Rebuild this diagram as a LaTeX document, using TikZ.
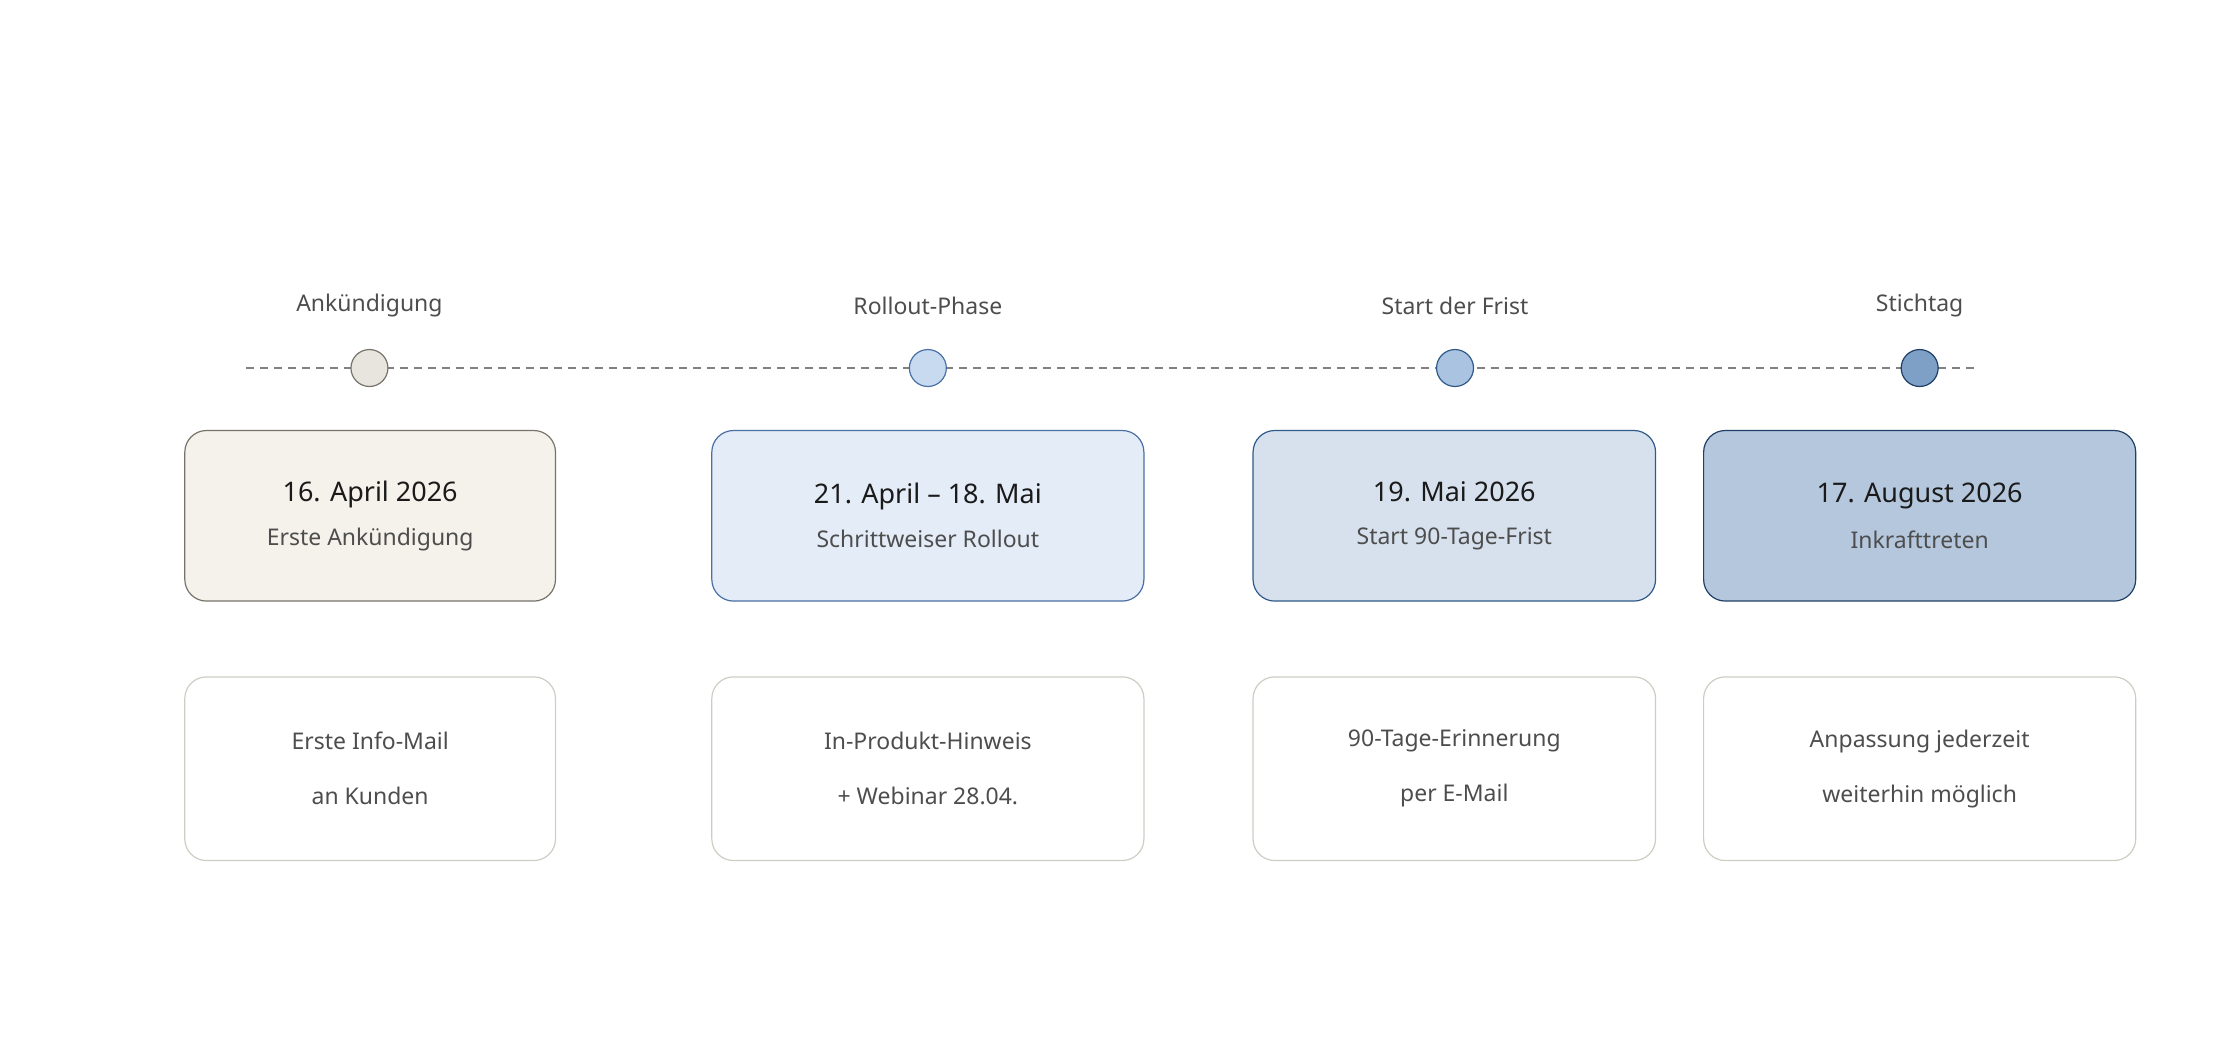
\documentclass[tikz,border=0pt]{standalone}
\usepackage{fontspec}
\setmainfont{Noto Sans}
\usetikzlibrary{positioning}
\definecolor{inkdark}{HTML}{1A1A1A}
\definecolor{inkgray}{HTML}{4D4D4D}
\definecolor{fillA}{HTML}{F5F2EB}\definecolor{lineA}{HTML}{77736B}\definecolor{dotA}{HTML}{E8E5DE}
\definecolor{fillB}{HTML}{E4ECF7}\definecolor{lineB}{HTML}{4A6FA5}\definecolor{dotB}{HTML}{C8DAF0}
\definecolor{fillC}{HTML}{D6E1ED}\definecolor{lineC}{HTML}{2F5A8A}\definecolor{dotC}{HTML}{A9C3E0}
\definecolor{fillD}{HTML}{B5C7DD}\definecolor{lineD}{HTML}{1F3F66}\definecolor{dotD}{HTML}{7FA0C6}
\definecolor{lineE}{HTML}{CFCCC4}
\tikzset{
  phase/.style={text=inkgray, font=\fontsize{11.5}{14}\selectfont},
  dot/.style={circle, draw=#1, line width=0.6pt, minimum size=0.65cm, inner sep=0pt},
  datebox/.style={rounded corners=0.38cm, line width=0.6pt, minimum height=3cm, align=center, inner sep=0pt},
  notebox/.style={rounded corners=0.38cm, draw=lineE, line width=0.6pt, minimum height=3.23cm,
    align=center, inner sep=0pt, text=inkgray, font=\fontsize{11.5}{27.5}\selectfont},
}
\newcommand{\datetext}[2]{{\fontsize{13.5}{16}\selectfont\bfseries\color{inkdark}#1}\\[0.35cm]{\fontsize{11.5}{14}\selectfont\color{inkgray}#2}}
\begin{document}
\begin{tikzpicture}[x=0.025cm,y=-0.025cm]
\useasboundingbox (0,0) rectangle (1568,735);

% timeline
\coordinate (start) at (173,259);
\coordinate (end) at (1393,259);
\draw[gray, dashed, line width=0.6pt, dash pattern=on 4pt off 3pt] (start) -- (end);

% milestones
\node[dot=lineA, fill=dotA] (dotA) at (260,259) {};
\node[dot=lineB, fill=dotB] (dotB) at (653,259) {};
\node[dot=lineC, fill=dotC] (dotC) at (1024,259) {};
\node[dot=lineD, fill=dotD] (dotD) at (1351,259) {};

\node[phase] (phaseA) at (260,215) {Ankündigung};
\node[phase] (phaseB) at (653,215) {Rollout-Phase};
\node[phase] (phaseC) at (1024,215) {Start der Frist};
\node[phase] (phaseD) at (1351,215) {Stichtag};

% date boxes
\node[datebox, draw=lineA, fill=fillA, minimum width=6.52cm] (dateA) at (260.5,363) {\datetext{16. April 2026}{Erste Ankündigung}};
\node[datebox, draw=lineB, fill=fillB, minimum width=7.6cm] (dateB) at (653,363) {\datetext{21. April – 18. Mai}{Schrittweiser Rollout}};
\node[datebox, draw=lineC, fill=fillC, minimum width=7.08cm] (dateC) at (1023.5,363) {\datetext{19. Mai 2026}{Start 90-Tage-Frist}};
\node[datebox, draw=lineD, fill=fillD, minimum width=7.6cm] (dateD) at (1351,363) {\datetext{17. August 2026}{Inkrafttreten}};

% notes
\node[notebox, minimum width=6.52cm] (noteA) at (260.5,541) {Erste Info-Mail\\an Kunden};
\node[notebox, minimum width=7.6cm] (noteB) at (653,541) {In-Produkt-Hinweis\\+ Webinar 28.04.};
\node[notebox, minimum width=7.08cm] (noteC) at (1023.5,541) {90-Tage-Erinnerung\\per E-Mail};
\node[notebox, minimum width=7.6cm] (noteD) at (1351,541) {Anpassung jederzeit\\weiterhin möglich};
\end{tikzpicture}
\end{document}
